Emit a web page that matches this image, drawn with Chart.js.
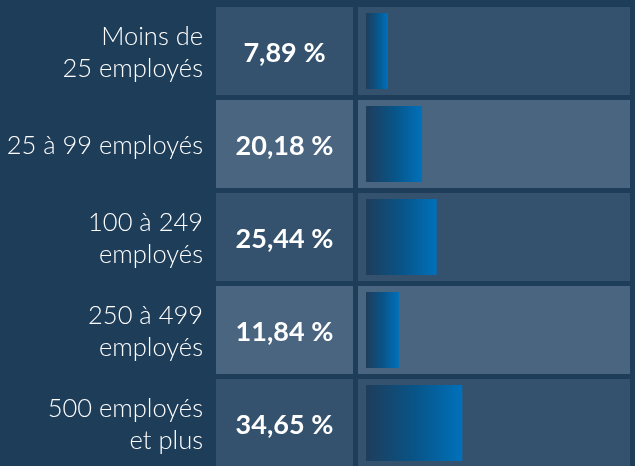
<!DOCTYPE html>
<html><head><meta charset="utf-8">
<script src="https://cdn.jsdelivr.net/npm/chart.js@4/dist/chart.umd.min.js"></script>
<style>
html,body{margin:0;padding:0;background:#1e3d59;overflow:hidden;width:635px;height:466px}
#wrap{position:relative;width:635px;height:470px}
</style></head><body>
<div id="wrap"><canvas id="c" width="635" height="470"></canvas></div>
<script>
const categories = [["Moins de","25 employés"],"25 à 99 employés",["100 à 249","employés"],["250 à 499","employés"],["500 employés","et plus"]];
const values = [7.89, 20.18, 25.44, 11.84, 34.65];
const rowColors = ["#34526d", "#4a6580", "#34526d", "#4a6580", "#34526d"];

function fmt(v){ return v.toFixed(2).replace('.', ',') + '\u202F%'; }

const cellsPlugin = {
  id: 'cells',
  beforeDatasetsDraw(chart){
    const {ctx, scales:{x, y}, chartArea} = chart;
    ctx.save();
    values.forEach((v, i) => {
      const cy = y.getPixelForValue(i);
      ctx.fillStyle = rowColors[i];
      ctx.fillRect(216, cy - 44, 137, 88);
      ctx.fillRect(358, cy - 44, chartArea.right - 358, 88);
    });
    ctx.restore();
  },
  afterDatasetsDraw(chart){
    const {ctx, scales:{y}} = chart;
    ctx.save();
    ctx.fillStyle = '#ffffff';
    ctx.font = '700 27px Lato';
    ctx.textAlign = 'center';
    ctx.textBaseline = 'middle';
    values.forEach((v, i) => {
      const cy = y.getPixelForValue(i);
      ctx.fillText(fmt(v), 284.5, cy + 2);
    });
    ctx.restore();
  }
};

function barGradient(context){
  const chart = context.chart;
  const xs = chart.scales && chart.scales.x;
  if (!xs || !chart.chartArea || context.dataIndex === undefined) return '#0070b8';
  const x0 = xs.getPixelForValue(0);
  const x1 = xs.getPixelForValue(values[context.dataIndex]);
  const g = chart.ctx.createLinearGradient(x0, 0, x1, 0);
  g.addColorStop(0, '#1f3d5b');
  g.addColorStop(0.5, '#085487');
  g.addColorStop(1, '#0071bb');
  return g;
}

new Chart(document.getElementById('c'), {
  type: 'bar',
  data: {
    labels: categories,
    datasets: [{
      data: values,
      backgroundColor: barGradient,
      borderWidth: 0,
      categoryPercentage: 1,
      barPercentage: 0.817
    }]
  },
  options: {
    indexAxis: 'y',
    responsive: false,
    devicePixelRatio: 1,
    animation: false,
    layout: { padding: { top: 4.5, bottom: 0.5, right: 5, left: 0 } },
    plugins: { legend: { display: false }, tooltip: { enabled: false } },
    scales: {
      x: { type: 'linear', min: 0, max: 95, display: false },
      y: {
        type: 'category',
        grid: { display: false, drawTicks: true, tickLength: 160 },
        border: { display: false },
        afterFit(scale){ scale.width = 366; scale.paddingTop = 0; scale.paddingBottom = 0; },
        ticks: {
          padding: 3,
          labelOffset: 2,
          color: '#ffffff',
          font: { family: 'Lato', size: 25.5, weight: '300', lineHeight: 1.26 }
        }
      }
    }
  },
  plugins: [cellsPlugin]
});
</script>
</body></html>
